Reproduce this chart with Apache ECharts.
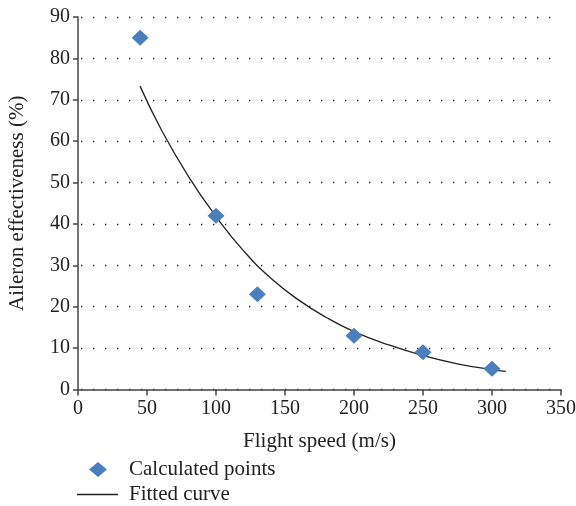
<!DOCTYPE html>
<html>
<head>
<meta charset="utf-8">
<script src="https://cdn.jsdelivr.net/npm/echarts@6/dist/echarts.min.js"></script>
<style>html,body{margin:0;padding:0;background:#fff;}#c{width:576px;height:506px;}</style>
</head>
<body>
<div id="c"></div>
<script>
// Calculated points
const pointSpeeds = [45, 100, 130, 200, 250, 300];
const pointEff = [85, 42, 23, 13, 9, 5];
// Fitted curve
const curveSpeeds = [45, 60, 80, 100, 120, 140, 160, 180, 200, 225, 250, 275, 300, 310];
const curveEff = [73.3, 63, 51.5, 41.8, 33.5, 26.8, 21.6, 17.4, 14.0, 10.8, 8.2, 6.2, 4.8, 4.4];
// Axis ticks
const xTicks = [0, 50, 100, 150, 200, 250, 300, 350];
const yTicks = [0, 10, 20, 30, 40, 50, 60, 70, 80, 90];

const font = 'Liberation Serif';
const txt = '#222';
const chart = echarts.init(document.getElementById('c'));
chart.setOption({
  animation: false,
  grid: {left: 78, right: 15, top: 17, bottom: 116.5, containLabel: false, outerBoundsMode: 'none'},
  xAxis: {
    type: 'value', min: xTicks[0], max: xTicks[xTicks.length - 1], interval: 50,
    name: 'Flight speed (m/s)', nameLocation: 'middle', nameGap: 41,
    nameTextStyle: {fontFamily: font, fontSize: 21, color: txt},
    axisLine: {lineStyle: {color: '#444', width: 1.5}},
    axisTick: {show: true, length: 6, lineStyle: {color: '#444', width: 1.5}},
    axisLabel: {fontFamily: font, fontSize: 20, color: txt, margin: 9},
    splitLine: {show: false}
  },
  yAxis: {
    type: 'value', min: yTicks[0], max: yTicks[yTicks.length - 1], interval: 10,
    name: 'Aileron effectiveness (%)', nameLocation: 'middle', nameGap: 50,
    nameTextStyle: {fontFamily: font, fontSize: 21, color: txt},
    axisLine: {show: true, lineStyle: {color: '#444', width: 1.5}},
    axisTick: {show: true, length: 5, lineStyle: {color: '#444', width: 1.5}},
    axisLabel: {fontFamily: font, fontSize: 20, color: txt, margin: 8},
    splitLine: {show: true, lineStyle: {color: '#222', width: 1.3, type: [1.3, 10.7], dashOffset: -3}}
  },
  legend: [
    {
      left: 89, top: 459, padding: 0, itemWidth: 18, itemHeight: 15,
      itemStyle: {opacity: 1},
      textStyle: {fontFamily: font, fontSize: 21, color: txt, padding: [0, 0, 0, 17]},
      data: [{name: 'Calculated points', icon: 'diamond'}]
    },
    {
      left: 77, top: 484, padding: 0, itemWidth: 41, itemHeight: 1.5,
      textStyle: {fontFamily: font, fontSize: 21, color: txt, padding: [0, 0, 0, 6]},
      data: [{name: 'Fitted curve', icon: 'rect'}]
    }
  ],
  series: [
    {
      name: 'Calculated points', type: 'scatter', symbol: 'diamond', symbolSize: [17, 16],
      itemStyle: {color: '#4a7ebd', opacity: 1}, z: 3,
      data: pointSpeeds.map((s, i) => [s, pointEff[i]])
    },
    {
      name: 'Fitted curve', type: 'line', smooth: true, symbol: 'none', showSymbol: false,
      lineStyle: {color: '#222', width: 1.3}, itemStyle: {color: '#222'}, z: 2,
      data: curveSpeeds.map((s, i) => [s, curveEff[i]])
    }
  ]
});
</script>
</body>
</html>
